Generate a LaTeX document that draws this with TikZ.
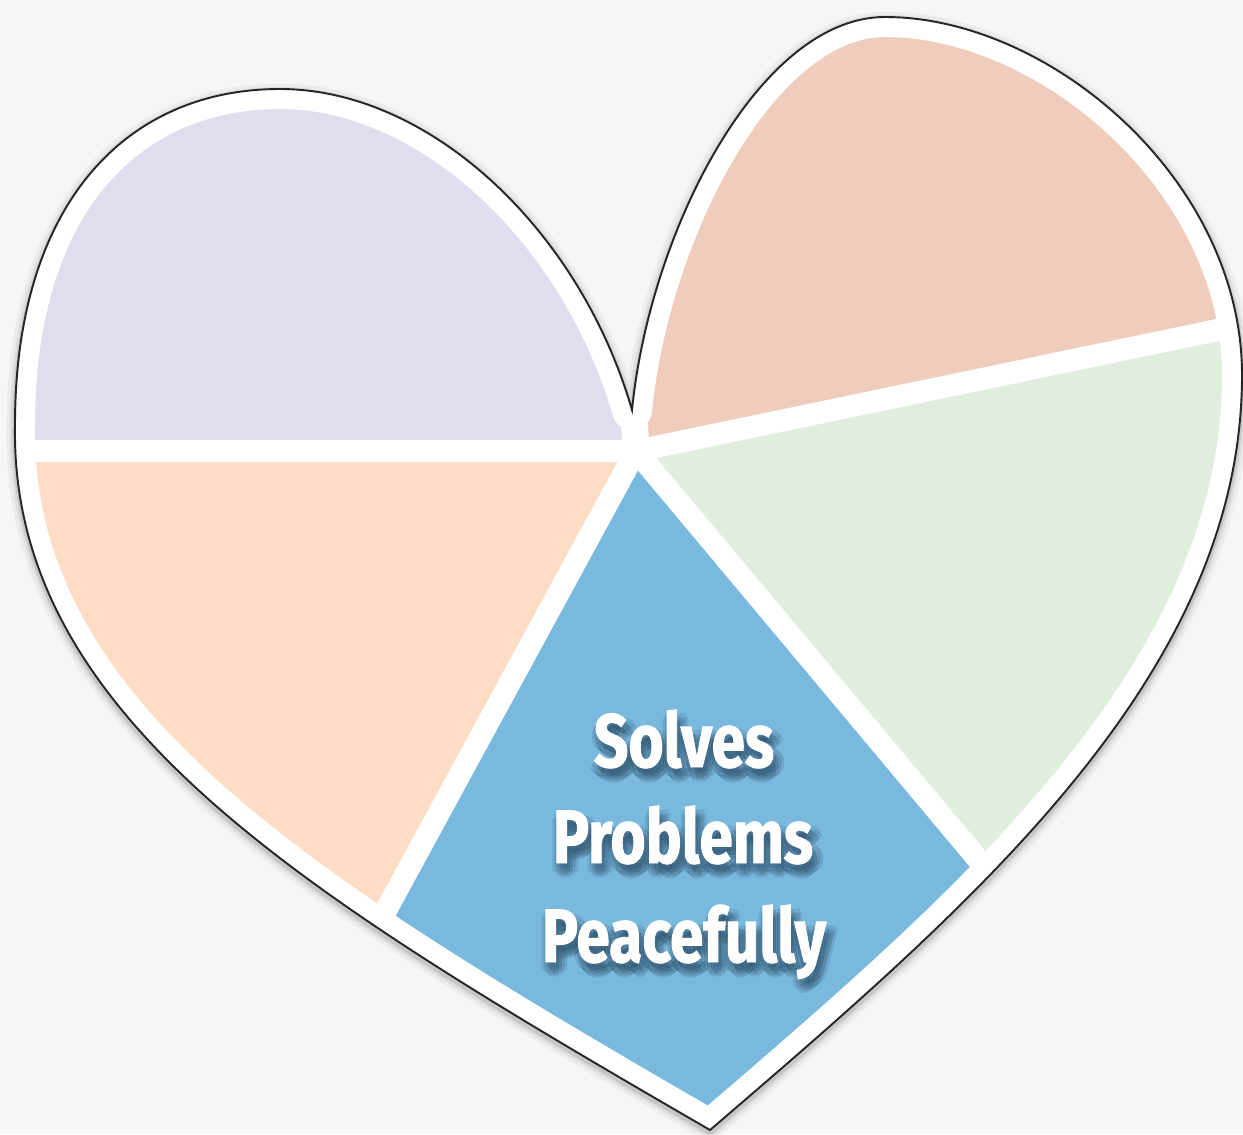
\documentclass[tikz,border=0pt]{standalone}
\usepackage{fontspec}
\setmainfont{Fira Sans}
\newfontfamily\heavy{Fira Sans}[FakeStretch=0.8, BoldFeatures={FakeBold=1.2}]
\definecolor{bgc}{RGB}{246,246,246}
\definecolor{lav}{RGB}{223,222,238}
\definecolor{peach}{RGB}{253,221,198}
\definecolor{bluec}{RGB}{122,185,222}
\definecolor{greenc}{RGB}{225,238,223}
\definecolor{salmon}{RGB}{240,204,189}
\definecolor{shc}{RGB}{35,65,90}
\newcommand\heartpath{(632,410) .. controls (580,230) and (430,89) .. (280,89) .. controls (125,89) and (15,205) .. (15,425) .. controls (10,720) and (310,898) .. (710,1130) .. controls (972,905) and (1242,675) .. (1242,375) .. controls (1242,180) and (1050,17) .. (885,17) .. controls (760,17) and (650,230) .. (632,410) -- cycle}
\newcommand\txtline[1]{{\heavy\bfseries #1}}
\begin{document}
\begin{tikzpicture}[x=0.02cm,y=-0.02cm,
  lbl/.style={inner sep=0pt, font=\fontsize{43}{43}\selectfont, anchor=base},
  shadowlbl/.style={lbl, text=shc, text opacity=0.1},
  divider/.style={white, line width=0.44cm, line cap=round}]
\useasboundingbox (0,0) rectangle (1243,1134);
\fill[bgc] (0,0) rectangle (1243,1134);
% soft shadow of the heart
\begin{scope}[shift={(0,3)}, line join=round]
  \draw[black, opacity=0.04, line width=0.34cm] \heartpath;
  \draw[black, opacity=0.06, line width=0.2cm] \heartpath;
  \draw[black, opacity=0.10, line width=0.1cm] \heartpath;
\end{scope}
\fill[white] \heartpath;
% key points
\coordinate (O) at (636,451);
\coordinate (cusp) at (632,380);
\coordinate (eL) at (-100,451);
\coordinate (eBL) at (174,1300);
\coordinate (eBR) at (1347,1300);
\coordinate (eR) at (1400,292);
\begin{scope}
  \clip \heartpath;
  \fill[lav] (O) -- (630,-100) -- (-100,-100) -- (eL) -- cycle;
  \fill[salmon] (O) -- (630,-100) -- (1400,-100) -- (eR) -- cycle;
  \fill[greenc] (O) -- (eR) -- (1400,1300) -- (eBR) -- cycle;
  \fill[bluec] (O) -- (eBR) -- (eBL) -- cycle;
  \fill[peach] (O) -- (eBL) -- (-100,1300) -- (eL) -- cycle;
  \draw[divider] (O) -- (eL);
  \draw[divider] (O) -- (eBL);
  \draw[divider] (O) -- (eBR);
  \draw[divider] (O) -- (eR);
  \draw[divider, line width=0.54cm] (O) -- (cusp);
  \draw[white, line width=0.8cm, line join=round] \heartpath;
\end{scope}
\draw[black!85, line width=1.1pt] \heartpath;
% text shadows (soft, offset downwards)
\foreach \dx/\dy [count=\k] in {0/4,5/8,-4/8,6/2,-5/2,0/12,8/6,-7/6,2/6,3/10,-2/10} {
  \node[shadowlbl] (sa\k) at ({687+\dx},{769+\dy}) {\txtline{Solves}};
  \node[shadowlbl] (sb\k) at ({686+\dx},{865+\dy}) {\txtline{Problems}};
  \node[shadowlbl] (sc\k) at ({687+\dx},{964+\dy}) {\txtline{Peacefully}};
}
% text
\node[lbl, text=white] (l1) at (684,767) {\txtline{Solves}};
\node[lbl, text=white] (l2) at (683,863) {\txtline{Problems}};
\node[lbl, text=white] (l3) at (684,962) {\txtline{Peacefully}};
\end{tikzpicture}
\end{document}
